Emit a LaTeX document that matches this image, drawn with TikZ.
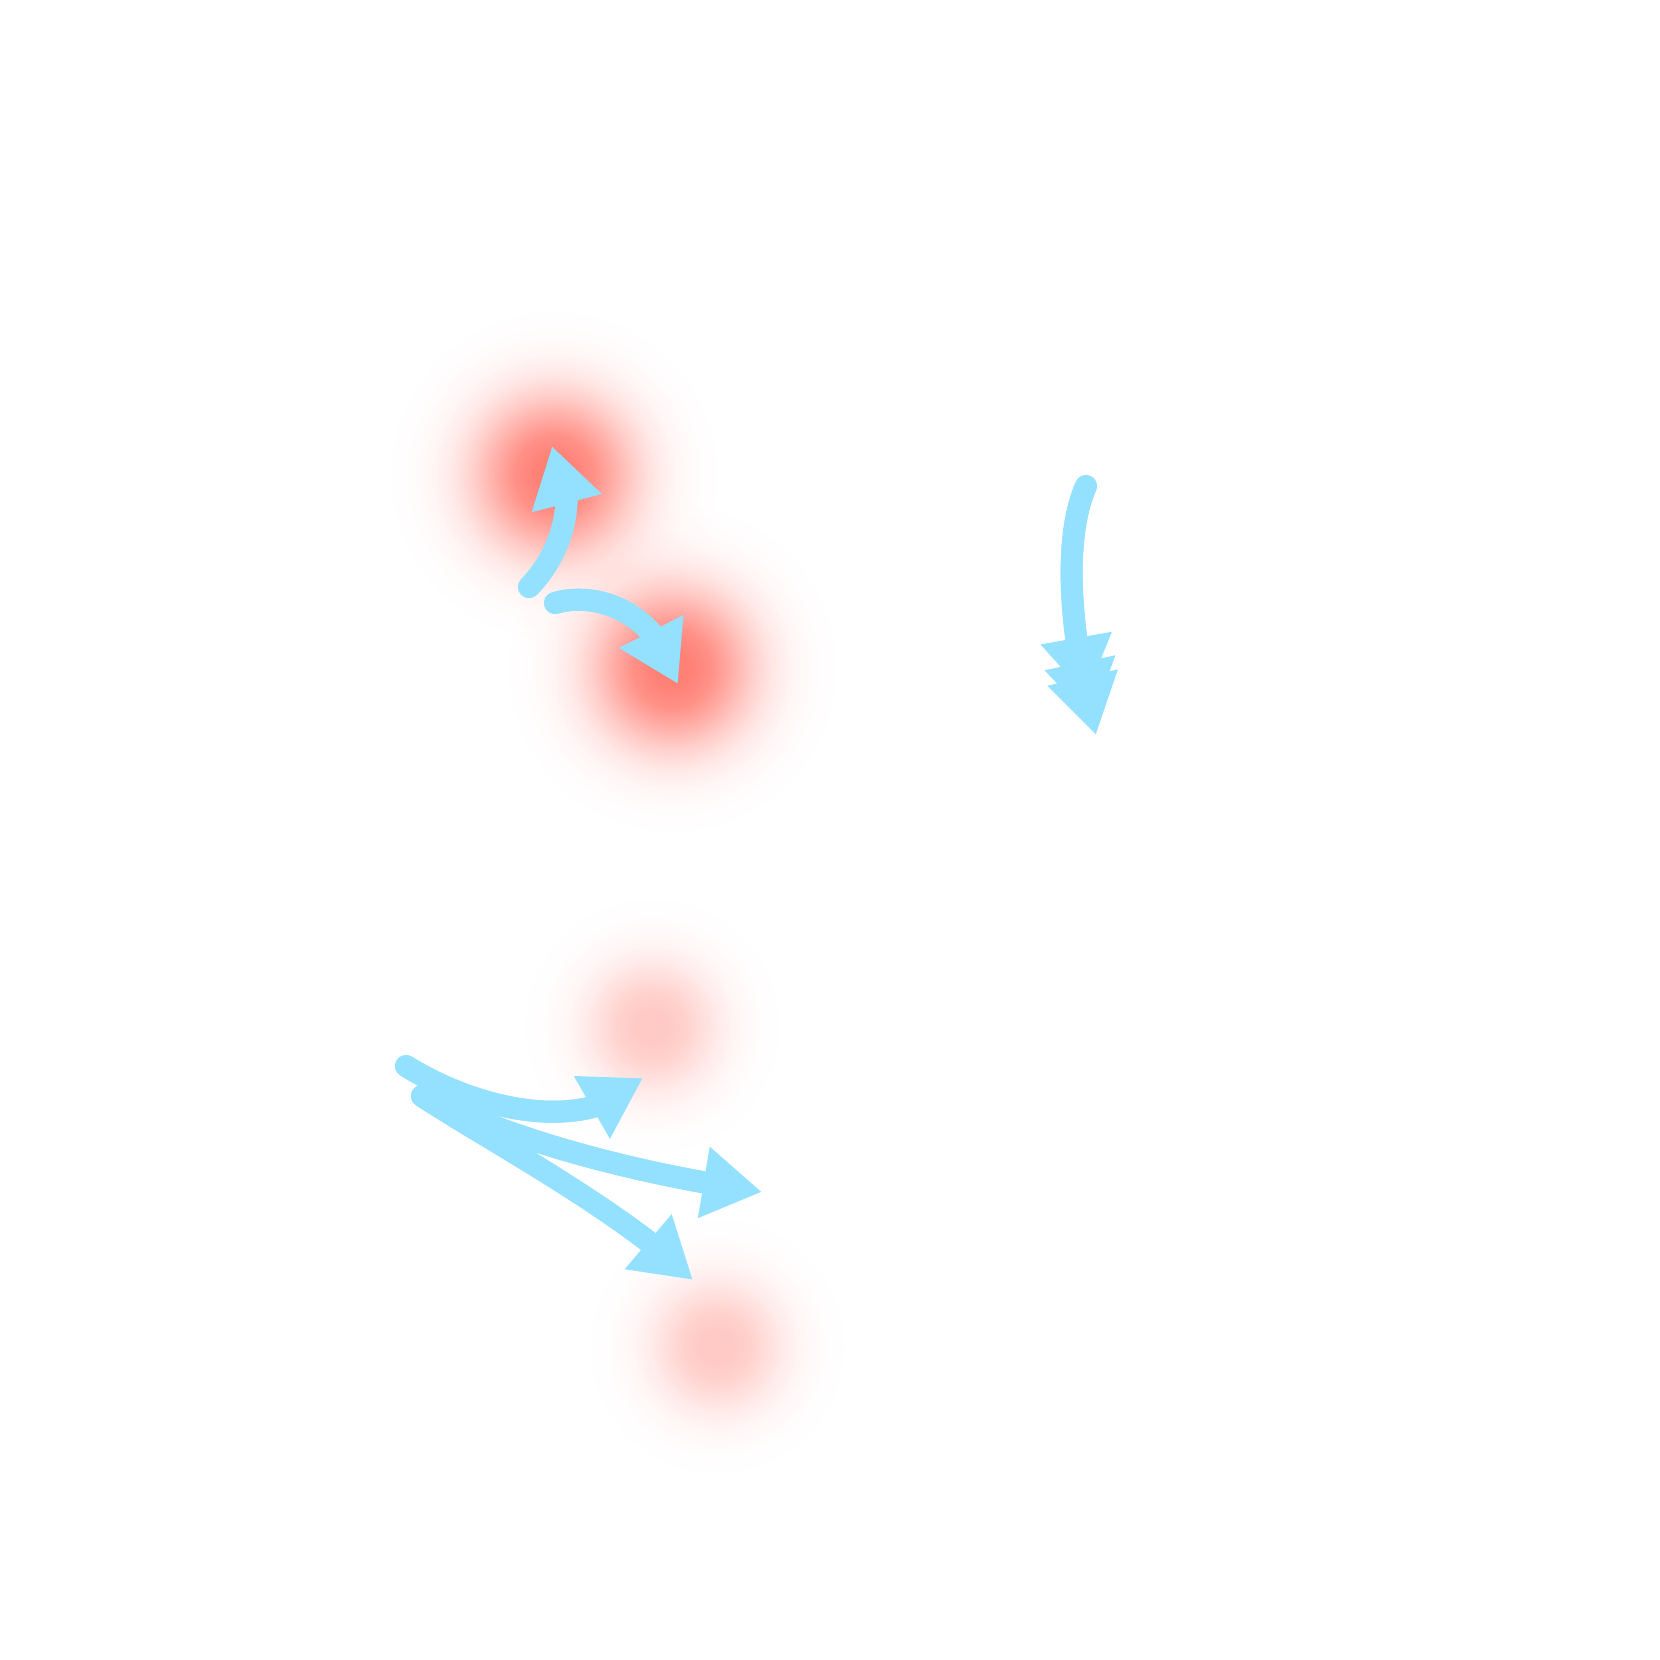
\documentclass[tikz,border=0pt]{standalone}
\usetikzlibrary{arrows.meta,bending,fadings}

\definecolor{glowred}{RGB}{255,20,0}
\definecolor{arrowblue}{RGB}{148,224,255}

% soft round fading for the red spots (white = opaque, black = clear)
\pgfdeclareradialshading{glowshading}{\pgfpoint{0bp}{0bp}}{%
  color(0bp)=(white);
  color(3bp)=(white!97!black);
  color(6bp)=(white!85!black);
  color(9bp)=(white!62!black);
  color(12bp)=(white!38!black);
  color(15bp)=(white!19!black);
  color(18bp)=(white!8!black);
  color(21bp)=(white!2.5!black);
  color(25bp)=(black);
  color(50bp)=(black)}
\pgfdeclarefading{glowfade}{\pgfuseshading{glowshading}}

\begin{document}
\begin{tikzpicture}[x=0.1mm,y=-0.1mm,
	glow/.style={fill=glowred,path fading=glowfade},
	stem/.style={draw=arrowblue,line width=2.2mm,line cap=round},
	flow/.style={draw=arrowblue,line width=2.2mm,line cap=round,
		-{Triangle[length=5.9mm,width=6.8mm,flex]}},
	flowtriple/.style={draw=arrowblue,line width=2.2mm,line cap=round,
		-{Triangle[length=5.9mm,width=6.8mm,flex,sep=-3.4mm]
		  Triangle[length=5.9mm,width=6.8mm,flex,sep=-4.4mm]
		  Triangle[length=5.9mm,width=6.8mm,flex]}}]
	\def\rbig{165} % radius of the strong spots
	\def\rsmall{135} % radius of the faint spots
	\useasboundingbox (0,0) rectangle (1660,1660);
	% red spots
	\coordinate (g1) at (554,475);
	\coordinate (g2) at (672,668);
	\coordinate (g3) at (652,1026);
	\coordinate (g4) at (717,1346);
	\fill[glow,fill opacity=0.55] (g1) circle (\rbig);
	\fill[glow,fill opacity=0.55] (g2) circle (\rbig);
	\fill[glow,fill opacity=0.23] (g3) circle (\rsmall);
	\fill[glow,fill opacity=0.23] (g4) circle (\rsmall);
	% arrows: start, inner end of the stem, tip
	\coordinate (a0) at (529,587); \coordinate (a2) at (566.2,488.8); \coordinate (a1) at (552,446);
	\coordinate (b0) at (555,603); \coordinate (b2) at (657.5,640.4); \coordinate (b1) at (678,684);
	\coordinate (c0) at (1086,486); \coordinate (c2) at (1085.6,692.4); \coordinate (c1) at (1096,735);
	\coordinate (d0) at (406,1066); \coordinate (d2) at (615.6,1098.4); \coordinate (d1) at (643,1078);
	\coordinate (e0) at (422,1096); \coordinate (e2) at (718.7,1185); \coordinate (e1) at (762,1192);
	\coordinate (f2) at (655.8,1247.3); \coordinate (f1) at (693,1280);
	% stems
	\draw[stem] (a0) .. controls (554.2,561.1) and (569.1,523.9) .. (a2);
	\draw[stem] (b0) .. controls (588.8,593.3) and (630.9,604.9) .. (b2);
	\draw[stem] (c0) .. controls (1065.6,531.9) and (1068.3,611) .. (c2);
	\draw[stem] (d0) .. controls (468.9,1105.1) and (557.8,1127.6) .. (d2);
	\draw[stem] (e0) .. controls (494,1131.1) and (591.9,1163) .. (e2);
	\draw[stem] (e0) .. controls (474.1,1130.4) and (582.6,1189.5) .. (f2);
	% heads
	\draw[flow] (a0) .. controls (565,550) and (580,490) .. (a1);
	\draw[flow] (b0) .. controls (600,590) and (660,615) .. (b1);
	\draw[flowtriple] (c0) .. controls (1062,540) and (1070,640) .. (c1);
	\draw[flow] (d0) .. controls (480,1112) and (590,1135) .. (d1);
	\draw[flow] (e0) .. controls (502,1135) and (614,1170) .. (e1);
	\draw[flow] (e0) .. controls (484,1137) and (626,1213) .. (f1);
\end{tikzpicture}
\end{document}
